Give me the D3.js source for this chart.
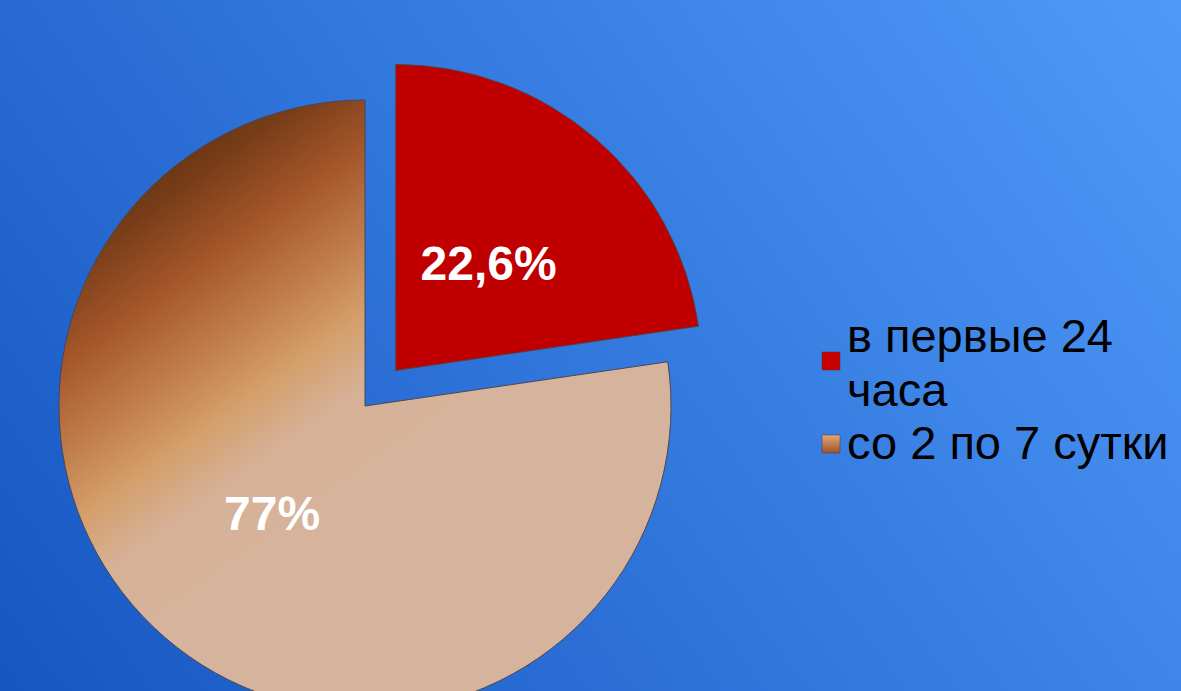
<!DOCTYPE html>
<html>
<head>
<meta charset="utf-8">
<script src="https://cdn.jsdelivr.net/npm/d3@7"></script>
<style>
html,body{margin:0;padding:0;overflow:hidden;}
svg{display:block;}
</style>
</head>
<body>
<svg id="chart" width="1181" height="691"></svg>
<script>
const categories = ["в первые 24 часа", "со 2 по 7 сутки"];
const values = [22.6, 77];
const labels = ["22,6%", "77%"];
const legendLines = [["в первые 24", "часа"], ["со 2 по 7 сутки"]];

const W = 1181, H = 691;
const svg = d3.select("#chart");
const defs = svg.append("defs");

// background gradient
const bg = defs.append("linearGradient").attr("id","bg")
  .attr("gradientUnits","userSpaceOnUse")
  .attr("x1",0).attr("y1",691).attr("x2",1098).attr("y2",-113);
bg.append("stop").attr("offset",0).attr("stop-color","#1656c1");
bg.append("stop").attr("offset",1).attr("stop-color","#4f9af9");
svg.append("rect").attr("width",W).attr("height",H).attr("fill","url(#bg)");

const cx = 365, cy = 406, R = 306, explode = 47, labelR = 142;

// brown gradient (coordinates relative to pie centre)
const br = defs.append("linearGradient").attr("id","brown")
  .attr("gradientUnits","userSpaceOnUse")
  .attr("x1",125 - cx).attr("y1",145 - cy).attr("x2",370 - cx).attr("y2",485 - cy);
[[0,"#5a2c12"],[0.16,"#773d18"],[0.33,"#a4552a"],[0.5,"#bf7a4a"],[0.66,"#d49f6b"],[0.8,"#d6b197"],[1,"#d6b39c"]]
  .forEach(([o,c]) => br.append("stop").attr("offset",o).attr("stop-color",c));

const lg = defs.append("linearGradient").attr("id","brownLeg")
  .attr("x1",0).attr("y1",0).attr("x2",0).attr("y2",1);
lg.append("stop").attr("offset",0).attr("stop-color","#e2a878");
lg.append("stop").attr("offset",1).attr("stop-color","#9a5428");

const colors = ["#c00000", "url(#brown)"];
const legendColors = ["#c80000", "url(#brownLeg)"];

const pie = d3.pie().sort(null).value(d => d);
const arcs = pie(values);
const arc = d3.arc().innerRadius(0).outerRadius(R);
const labelArc = d3.arc().innerRadius(labelR).outerRadius(labelR);

const g = svg.append("g").attr("transform", `translate(${cx},${cy})`);

arcs.forEach((a, i) => {
  const mid = (a.startAngle + a.endAngle) / 2;
  const off = i === 0 ? explode : 0;
  const dx = Math.sin(mid) * off, dy = -Math.cos(mid) * off;
  g.append("path").attr("d", arc(a))
    .attr("transform", `translate(${dx},${dy})`)
    .attr("fill", colors[i])
    .attr("stroke", "#4b4650").attr("stroke-width", 1);
});

arcs.forEach((a, i) => {
  const mid = (a.startAngle + a.endAngle) / 2;
  const off = i === 0 ? explode : 0;
  const [lx, ly] = labelArc.centroid(a);
  g.append("text")
    .attr("x", lx + Math.sin(mid) * off)
    .attr("y", ly - Math.cos(mid) * off)
    .attr("text-anchor","middle")
    .attr("dominant-baseline","central")
    .attr("font-family","'Liberation Sans', Arial, sans-serif")
    .attr("font-weight","bold")
    .attr("font-size", 48)
    .attr("fill","#ffffff")
    .text(labels[i]);
});

// legend
const leg = svg.append("g");
const legendPos = [{sq:352, base:[352, 406]}, {sq:435, base:[459]}];
categories.forEach((c, i) => {
  leg.append("rect").attr("x", 822).attr("y", legendPos[i].sq)
    .attr("width", 18).attr("height", 18)
    .attr("fill", legendColors[i]).attr("stroke","#5a3030").attr("stroke-width",0.5);
  legendLines[i].forEach((line, j) => {
    leg.append("text").attr("x", 847).attr("y", legendPos[i].base[j])
      .attr("font-family","'Liberation Sans', Arial, sans-serif")
      .attr("font-size", 47).attr("fill","#000")
      .text(line);
  });
});
</script>
</body>
</html>
